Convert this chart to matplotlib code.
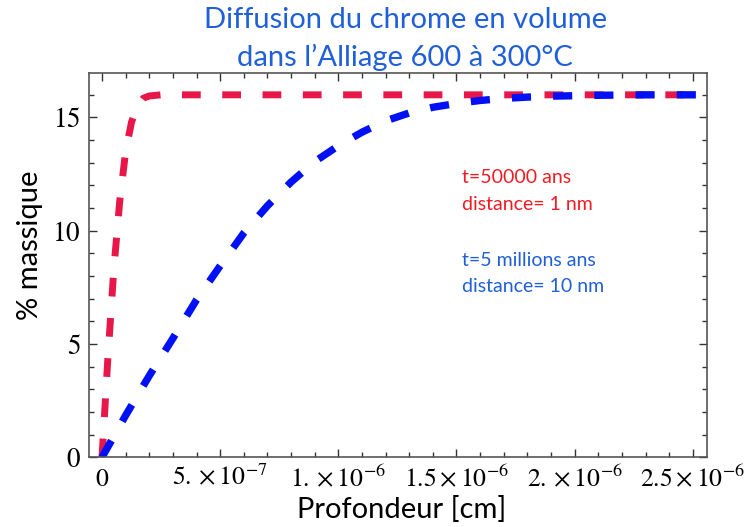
import matplotlib
matplotlib.use("Agg")
import matplotlib.pyplot as plt
from matplotlib.ticker import MultipleLocator

# Données (x en unités de 1e-7 cm, y en % massique)
x_rouge = [0, 0.25, 0.5, 0.75, 1.0, 1.25, 1.5, 1.75, 2.0, 2.5, 25.2]
y_rouge = [0, 4.4, 8.3, 11.3, 13.5, 14.8, 15.5, 15.85, 15.95, 16.0, 16.0]

x_bleu = [0, 1, 2, 3, 4, 5, 6, 7, 8, 9, 10, 11, 12, 13, 14, 15, 16, 17, 18,
          19, 20, 21, 22, 23, 25.2]
y_bleu = [0, 1.85, 3.6, 5.25, 6.95, 8.45, 9.9, 11.1, 12.15, 13.05, 13.75,
          14.35, 14.85, 15.2, 15.45, 15.62, 15.75, 15.84, 15.9, 15.94, 15.96,
          15.98, 15.99, 16.0, 16.0]

xticks = [0, 5e-7, 1e-6, 1.5e-6, 2e-6, 2.5e-6]
xtick_labels = [r"$0$", r"$5.\times10^{-7}$", r"$1.\times10^{-6}$",
                r"$1.5\times10^{-6}$", r"$2.\times10^{-6}$", r"$2.5\times10^{-6}$"]
yticks = [0, 5, 10, 15]

plt.rcParams["mathtext.fontset"] = "stix"

W, H = 746, 527
fig = plt.figure(figsize=(W / 100, H / 100), dpi=100)
ax = fig.add_axes([89 / W, 1 - 457.3 / H, (707 - 89) / W, (457.3 - 73.3) / H])

rouge = "#e8174a"
bleu = "#0010f5"
ax.plot([v * 1e-7 for v in x_rouge], y_rouge, color=rouge, lw=5,
        dashes=(2.7, 3.1), dash_capstyle="butt")
ax.plot([v * 1e-7 for v in x_bleu], y_bleu, color=bleu, lw=5.3,
        dashes=(2.6, 3.0), dash_capstyle="butt")

ax.set_xlim(-5.5e-8, 2.56e-6)
ax.set_ylim(0, 16.95)
ax.set_xticks(xticks)
ax.set_xticklabels(xtick_labels)
ax.set_yticks(yticks)
ax.set_yticklabels([r"$%d$" % v for v in yticks])
ax.xaxis.set_minor_locator(MultipleLocator(1e-7))
ax.yaxis.set_minor_locator(MultipleLocator(1))
ax.tick_params(which="both", direction="in", top=True, right=True,
               labeltop=False, labelright=False, color="#333333", width=1)
ax.tick_params(which="major", length=6, labelsize=18.5, pad=6)
ax.tick_params(which="minor", length=3.5)
ax.tick_params(axis="y", which="major", labelsize=19.5)
for s in ax.spines.values():
    s.set_color("#555555")
    s.set_linewidth(1.2)

police = "Lato"
titre_c = "#1f5fd8"
fig.text(406 / W, 1 - 20 / H, "Diffusion du chrome en volume", color=titre_c,
         fontsize=21, family=police, ha="center", va="center")
fig.text(405 / W, 1 - 57 / H, "dans l\u2019Alliage 600 à 300°C", color=titre_c,
         fontsize=21, family=police, ha="center", va="center")

fig.text(402 / W, 1 - 510 / H, "Profondeur [cm]", fontsize=21, family=police,
         ha="center", va="center")
fig.text(30 / W, 1 - 245 / H, "% massique", fontsize=21, family=police,
         rotation=90, ha="center", va="center")

fig.text(462 / W, 1 - 177 / H, "t=50000 ans", color="#f01c24", fontsize=14,
         family=police, va="center")
fig.text(462 / W, 1 - 204 / H, "distance= 1 nm", color="#f01c24", fontsize=14,
         family=police, va="center")
fig.text(462 / W, 1 - 260 / H, "t=5 millions ans", color=titre_c, fontsize=14,
         family=police, va="center")
fig.text(462 / W, 1 - 287 / H, "distance= 10 nm", color=titre_c, fontsize=14,
         family=police, va="center")

fig.savefig("out.png", dpi=100)
